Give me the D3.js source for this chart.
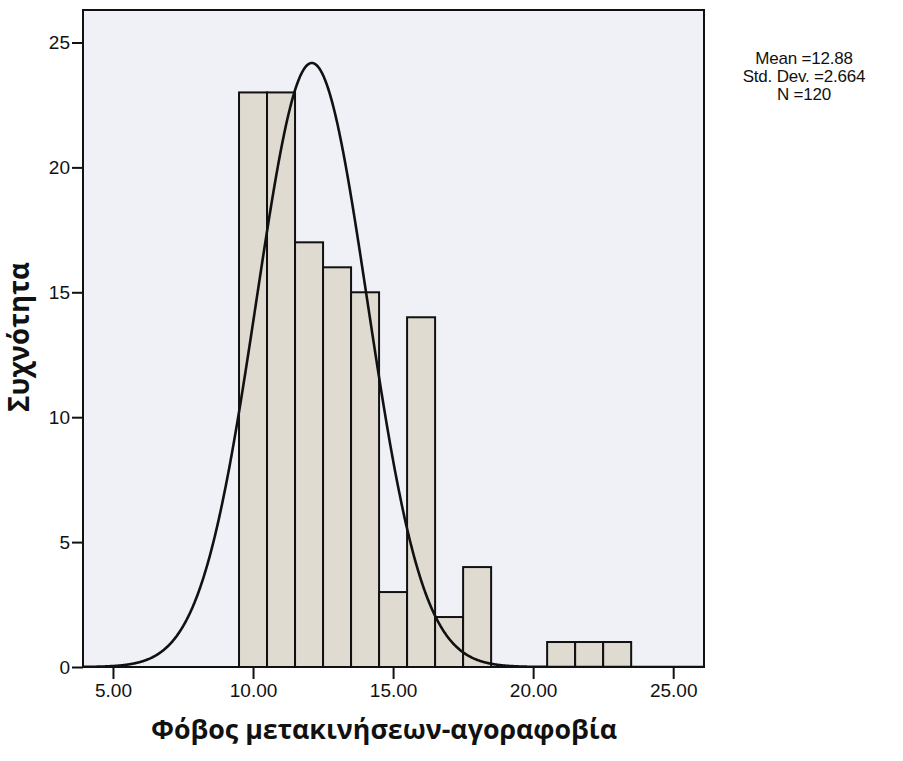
<!DOCTYPE html>
<html>
<head>
<meta charset="utf-8">
<script src="https://cdn.jsdelivr.net/npm/d3@7"></script>
<style>
  html, body { margin: 0; padding: 0; background: #ffffff; }
  svg { display: block; }
</style>
</head>
<body>
<svg id="chart" width="903" height="761"></svg>
<script>
// ---- data ----
const binLower = [9.5, 10.5, 11.5, 12.5, 13.5, 14.5, 15.5, 16.5, 17.5, 18.5, 19.5, 20.5, 21.5, 22.5];
const binCounts = [23, 23, 17, 16, 15, 3, 14, 2, 4, 0, 0, 1, 1, 1];
const binWidth = 1;
const xTicks = [5, 10, 15, 20, 25];
const yTicks = [0, 5, 10, 15, 20, 25];
const statsLines = ["Mean =12.88", "Std. Dev. =2.664", "N =120"];
const nTotal = 120;
// normal curve as drawn in the picture
const curveMean = 12.1;
const curveSD = 1.98;
const xTitle = "Φόβος μετακινήσεων-αγοραφοβία";
const yTitle = "Συχνότητα";

// ---- layout ----
const plot = { left: 83, top: 10, right: 704, bottom: 667 };
const svg = d3.select("#chart");

const x = d3.scaleLinear().domain([3.93, 26.1]).range([plot.left, plot.right]);
const y = d3.scaleLinear().domain([0, 26.3]).range([plot.bottom, plot.top]);

function fitWidth(sel, target) {
  const w = sel.node().getComputedTextLength();
  const fs = parseFloat(sel.attr("font-size"));
  sel.attr("font-size", (fs * target / w).toFixed(2));
}

// plot background
svg.append("rect")
  .attr("x", plot.left).attr("y", plot.top)
  .attr("width", plot.right - plot.left).attr("height", plot.bottom - plot.top)
  .attr("fill", "#eff1f7");

// bars
const bars = binLower.map((b, i) => ({ x0: b, x1: b + binWidth, c: binCounts[i] })).filter(d => d.c > 0);
svg.append("g").selectAll("rect").data(bars).join("rect")
  .attr("x", d => x(d.x0))
  .attr("y", d => y(d.c))
  .attr("width", d => x(d.x1) - x(d.x0))
  .attr("height", d => y(0) - y(d.c))
  .attr("fill", "#e0dbd1")
  .attr("stroke", "#111")
  .attr("stroke-width", 2);

// normal curve
const clipId = "plotclip";
svg.append("clipPath").attr("id", clipId).append("rect")
  .attr("x", plot.left).attr("y", plot.top)
  .attr("width", plot.right - plot.left).attr("height", plot.bottom - plot.top);
const pts = d3.range(x.domain()[0], x.domain()[1], 0.02).map(v => [v,
  nTotal * binWidth / (curveSD * Math.sqrt(2 * Math.PI)) * Math.exp(-0.5 * Math.pow((v - curveMean) / curveSD, 2))]);
svg.append("path")
  .datum(pts)
  .attr("clip-path", `url(#${clipId})`)
  .attr("fill", "none")
  .attr("stroke", "#111")
  .attr("stroke-width", 2.6)
  .attr("d", d3.line().x(d => x(d[0])).y(d => y(d[1])));

// frame
svg.append("rect")
  .attr("x", plot.left).attr("y", plot.top)
  .attr("width", plot.right - plot.left).attr("height", plot.bottom - plot.top)
  .attr("fill", "none").attr("stroke", "#111").attr("stroke-width", 2);

// axes
const xAxis = d3.axisBottom(x).tickValues(xTicks).tickFormat(d3.format(".2f")).tickSize(12).tickPadding(5);
const gx = svg.append("g").attr("transform", `translate(0,${plot.bottom})`).call(xAxis);
gx.select(".domain").remove();
gx.selectAll("line").attr("stroke", "#111").attr("stroke-width", 2);
gx.selectAll("text").attr("font-family", "Liberation Sans, Arial, sans-serif")
  .attr("font-size", 19).attr("fill", "#111");

const yAxis = d3.axisLeft(y).tickValues(yTicks).tickFormat(d3.format("d")).tickSize(11).tickPadding(2);
const gy = svg.append("g").attr("transform", `translate(${plot.left},0)`).call(yAxis);
gy.select(".domain").remove();
gy.selectAll("line").attr("stroke", "#111").attr("stroke-width", 2);
gy.selectAll("text").attr("font-family", "Liberation Sans, Arial, sans-serif")
  .attr("font-size", 19).attr("fill", "#111");

// axis titles
const xt = svg.append("text")
  .attr("x", 384).attr("y", 739)
  .attr("text-anchor", "middle")
  .attr("font-family", "Open Sans, Noto Sans, sans-serif")
  .attr("font-weight", "bold")
  .attr("font-size", 24)
  .attr("fill", "#111")
  .text(xTitle);
fitWidth(xt, 466);

const yt = svg.append("text")
  .attr("transform", "translate(29,337) rotate(-90)")
  .attr("text-anchor", "middle")
  .attr("font-family", "Open Sans, Noto Sans, sans-serif")
  .attr("font-weight", "bold")
  .attr("font-size", 24)
  .attr("fill", "#111")
  .text(yTitle);
fitWidth(yt, 150);

// stats box
svg.append("g").selectAll("text").data(statsLines).join("text")
  .attr("x", 804)
  .attr("y", (d, i) => 64 + i * 18)
  .attr("text-anchor", "middle")
  .attr("font-family", "Liberation Sans, Arial, sans-serif")
  .attr("font-size", 17)
  .attr("letter-spacing", -0.2)
  .attr("fill", "#111")
  .text(d => d);
</script>
</body>
</html>
